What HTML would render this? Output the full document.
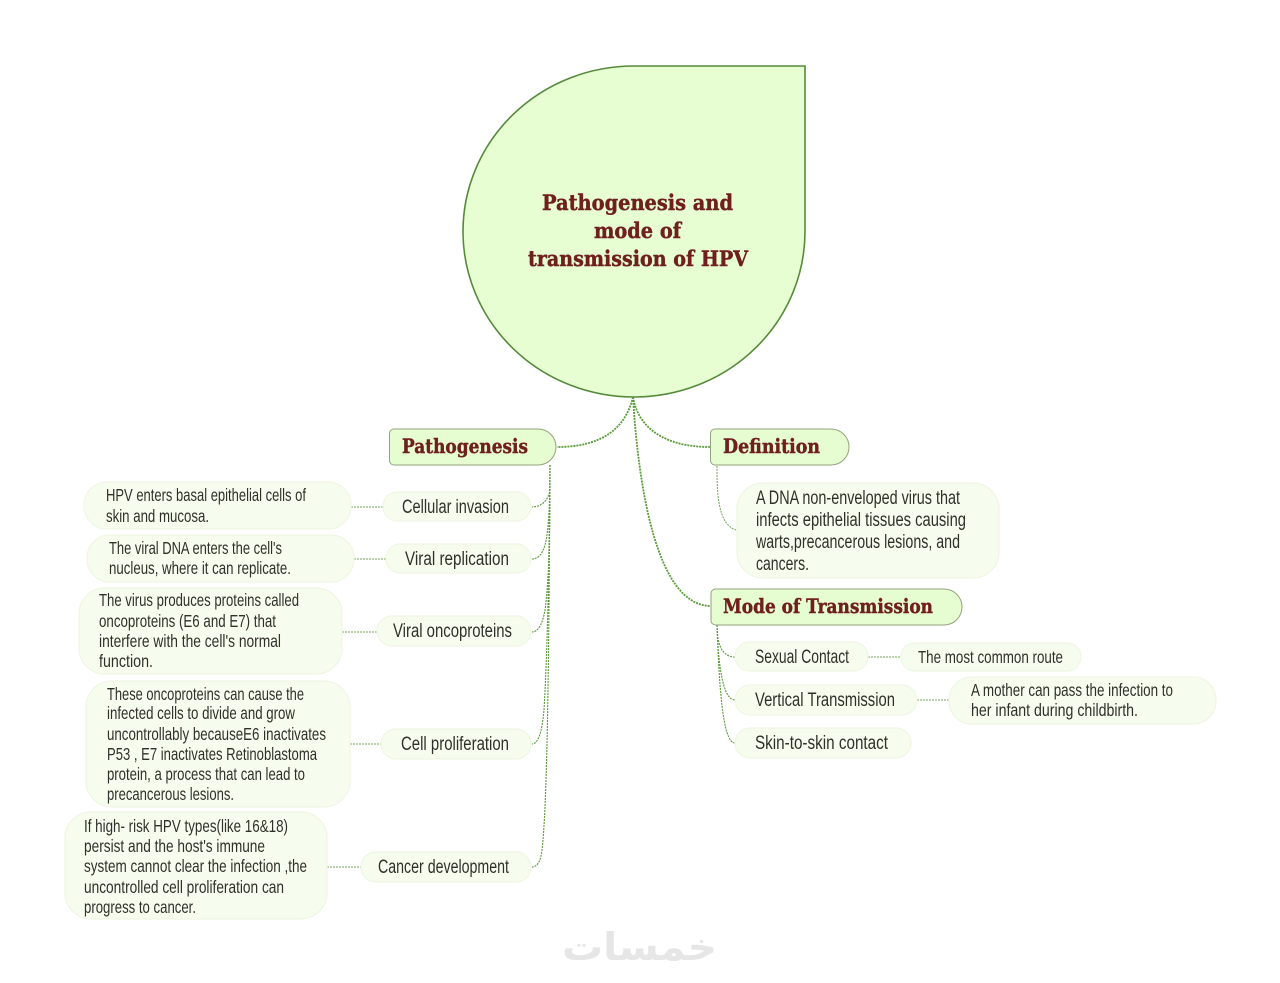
<!DOCTYPE html>
<html lang="en">
<head>
<meta charset="utf-8">
<title>Pathogenesis and mode of transmission of HPV</title>
<style>
html,body{margin:0;padding:0;background:#fff;width:1280px;height:983px;overflow:hidden}
svg{display:block}
.h{font-family:"DejaVu Serif","Liberation Serif",serif;font-weight:bold;fill:#6f1f1d;stroke:#6f1f1d;stroke-width:.45}
.t{font-family:"Liberation Sans Narrow","Liberation Sans",sans-serif;font-size:17.5px;fill:#30302a}
.n{fill:#f6fdee;stroke:#eff6e4;stroke-width:1.2}
.m{fill:#e6fdd2;stroke:#93a37c;stroke-width:1}
.c{fill:none;stroke:#5a9a38;stroke-width:1.8;stroke-dasharray:2 1}
.e{fill:none;stroke:#5a9a38;stroke-width:1.1;stroke-dasharray:2 1}
.d{fill:none;stroke:#76a35c;stroke-width:1;stroke-dasharray:2 1}
</style>
</head>
<body>
<svg width="1280" height="983" viewBox="0 0 1280 983" xmlns="http://www.w3.org/2000/svg">
<rect width="1280" height="983" fill="#fff"/>

<!-- central teardrop -->
<path d="M634 66H805V231.500A171 165.500 0 1 1 634 66Z" fill="#e6fed2" stroke="#568a3a" stroke-width="1.600"/>
<g class="h" font-size="21">
<text x="542" y="210" textLength="191" lengthAdjust="spacingAndGlyphs">Pathogenesis and</text>
<text x="594" y="238" textLength="87" lengthAdjust="spacingAndGlyphs">mode of</text>
<text x="528" y="266" textLength="220" lengthAdjust="spacingAndGlyphs">transmission of HPV</text>
</g>

<!-- main connectors -->
<path class="c" d="M633 397C625 430 600 447 557 447"/>
<path class="c" d="M633 397C638 428 665 447 710 447"/>
<path class="c" d="M633 397C638 480 655 606 711 606"/>

<!-- left connectors -->
<path class="e" d="M550 465V490C549 498 543 507 532 507"/>
<path class="e" d="M550 465C550 500 549 530 545 545Q541 559 532 559"/>
<path class="e" d="M550 465C550 540 549 580 545 610Q541 632 532 632"/>
<path class="e" d="M550 465C549 560 548 640 544 710Q541 744 532 744"/>
<path class="e" d="M550 465C549 620 548 800 542 850Q540 867 532 867"/>
<path class="d" d="M351 507H383"/>
<path class="d" d="M354 559H386"/>
<path class="d" d="M342 632H377"/>
<path class="d" d="M350 744H381"/>
<path class="d" d="M327 867H361"/>

<!-- right connectors -->
<path class="d" d="M717 466C717 490 717 524 736 530"/>
<path class="e" d="M717 625C717 640 720 657 735 657"/>
<path class="e" d="M717 625C718 660 722 700 735 700"/>
<path class="e" d="M717 625C719 680 722 743 735 743"/>
<path class="d" d="M868 657H901"/>
<path class="d" d="M917 700H949"/>

<!-- main topic nodes -->
<path class="m" d="M394 429H538A18 18 0 0 1 556 447A18 18 0 0 1 538 465H394A4.500 4.500 0 0 1 389.500 460.500V433.500A4.500 4.500 0 0 1 394 429Z"/>
<path class="m" d="M715 429H831A18 18 0 0 1 849 447A18 18 0 0 1 831 465H715A4.500 4.500 0 0 1 710.500 460.500V433.500A4.500 4.500 0 0 1 715 429Z"/>
<path class="m" d="M715.500 589H944A18 18 0 0 1 962 607A18 18 0 0 1 944 625H715.500A4.500 4.500 0 0 1 711 620.500V593.500A4.500 4.500 0 0 1 715.500 589Z"/>
<g class="h" font-size="20">
<text x="402" y="453" textLength="126" lengthAdjust="spacingAndGlyphs">Pathogenesis</text>
<text x="723" y="453" textLength="97" lengthAdjust="spacingAndGlyphs">Definition</text>
<text x="723" y="613" textLength="210" lengthAdjust="spacingAndGlyphs">Mode of Transmission</text>
</g>

<!-- left subtopics -->
<rect class="n" x="383" y="492" width="148" height="29" rx="14.500"/>
<rect class="n" x="386" y="544" width="145" height="29" rx="14.500"/>
<rect class="n" x="377" y="616" width="154" height="30" rx="15"/>
<rect class="n" x="381" y="729" width="150" height="30" rx="15"/>
<rect class="n" x="361" y="852" width="170" height="30" rx="15"/>
<g class="t" style="font-size:19px">
<text x="402" y="513" textLength="107" lengthAdjust="spacingAndGlyphs">Cellular invasion</text>
<text x="405" y="565" textLength="104" lengthAdjust="spacingAndGlyphs">Viral replication</text>
<text x="393" y="637" textLength="119" lengthAdjust="spacingAndGlyphs">Viral oncoproteins</text>
<text x="401" y="750" textLength="108" lengthAdjust="spacingAndGlyphs">Cell proliferation</text>
<text x="378" y="873" textLength="131" lengthAdjust="spacingAndGlyphs">Cancer development</text>
</g>

<!-- left details -->
<rect class="n" x="84" y="482" width="267" height="47" rx="23"/>
<rect class="n" x="87" y="535" width="267" height="47" rx="23"/>
<rect class="n" x="79" y="588" width="263" height="86" rx="26"/>
<rect class="n" x="86" y="681" width="264" height="126" rx="26"/>
<rect class="n" x="65" y="812" width="262" height="107" rx="26"/>
<g class="t">
<text x="106" y="501" textLength="200" lengthAdjust="spacingAndGlyphs">HPV enters basal epithelial cells of</text>
<text x="106" y="522" textLength="103" lengthAdjust="spacingAndGlyphs">skin and mucosa.</text>
<text x="109" y="554" textLength="173" lengthAdjust="spacingAndGlyphs">The viral DNA enters the cell's</text>
<text x="109" y="574" textLength="182" lengthAdjust="spacingAndGlyphs">nucleus, where it can replicate.</text>
<text x="99" y="606" textLength="200" lengthAdjust="spacingAndGlyphs">The virus produces proteins called</text>
<text x="99" y="627" textLength="177" lengthAdjust="spacingAndGlyphs">oncoproteins (E6 and E7) that</text>
<text x="99" y="647" textLength="182" lengthAdjust="spacingAndGlyphs">interfere with the cell's normal</text>
<text x="99" y="667" textLength="54" lengthAdjust="spacingAndGlyphs">function.</text>
<text x="107" y="700" textLength="197" lengthAdjust="spacingAndGlyphs">These oncoproteins can cause the</text>
<text x="107" y="719" textLength="188" lengthAdjust="spacingAndGlyphs">infected cells to divide and grow</text>
<text x="107" y="740" textLength="219" lengthAdjust="spacingAndGlyphs">uncontrollably becauseE6 inactivates</text>
<text x="107" y="760" textLength="210" lengthAdjust="spacingAndGlyphs">P53 , E7 inactivates Retinoblastoma</text>
<text x="107" y="780" textLength="198" lengthAdjust="spacingAndGlyphs">protein, a process that can lead to</text>
<text x="107" y="800" textLength="127" lengthAdjust="spacingAndGlyphs">precancerous lesions.</text>
<text x="84" y="832" textLength="204" lengthAdjust="spacingAndGlyphs">If high- risk HPV types(like 16&amp;18)</text>
<text x="84" y="852" textLength="181" lengthAdjust="spacingAndGlyphs">persist and the host's immune</text>
<text x="84" y="872" textLength="223" lengthAdjust="spacingAndGlyphs">system cannot clear the infection ,the</text>
<text x="84" y="893" textLength="200" lengthAdjust="spacingAndGlyphs">uncontrolled cell proliferation can</text>
<text x="84" y="913" textLength="112" lengthAdjust="spacingAndGlyphs">progress to cancer.</text>
</g>

<!-- right nodes -->
<rect class="n" x="737" y="483" width="262" height="95" rx="26"/>
<rect class="n" x="735" y="642" width="133" height="29" rx="14.500"/>
<rect class="n" x="735" y="685" width="182" height="30" rx="15"/>
<rect class="n" x="735" y="728" width="176" height="30" rx="15"/>
<rect class="n" x="901" y="643" width="180" height="28" rx="14"/>
<rect class="n" x="949" y="677" width="267" height="47" rx="23"/>
<g class="t" style="font-size:19px">
<text x="756" y="504" textLength="204" lengthAdjust="spacingAndGlyphs">A DNA non-enveloped virus that</text>
<text x="756" y="526" textLength="210" lengthAdjust="spacingAndGlyphs">infects epithelial tissues causing</text>
<text x="756" y="548" textLength="204" lengthAdjust="spacingAndGlyphs">warts,precancerous lesions, and</text>
<text x="756" y="570" textLength="53" lengthAdjust="spacingAndGlyphs">cancers.</text>
<text x="755" y="663" textLength="94" lengthAdjust="spacingAndGlyphs">Sexual Contact</text>
<text x="755" y="706" textLength="140" lengthAdjust="spacingAndGlyphs">Vertical Transmission</text>
<text x="755" y="749" textLength="133" lengthAdjust="spacingAndGlyphs">Skin-to-skin contact</text>
</g>
<g class="t">
<text x="918" y="663" textLength="145" lengthAdjust="spacingAndGlyphs">The most common route</text>
<text x="971" y="696" textLength="202" lengthAdjust="spacingAndGlyphs">A mother can pass the infection to</text>
<text x="971" y="716" textLength="167" lengthAdjust="spacingAndGlyphs">her infant during childbirth.</text>
</g>

<!-- watermark -->
<text x="717" y="960" textLength="155" lengthAdjust="spacingAndGlyphs" direction="rtl" style="font-family:'DejaVu Sans',sans-serif;font-size:38px;font-weight:bold;fill:#e6e6e6">خمسات</text>
</svg>
</body>
</html>
